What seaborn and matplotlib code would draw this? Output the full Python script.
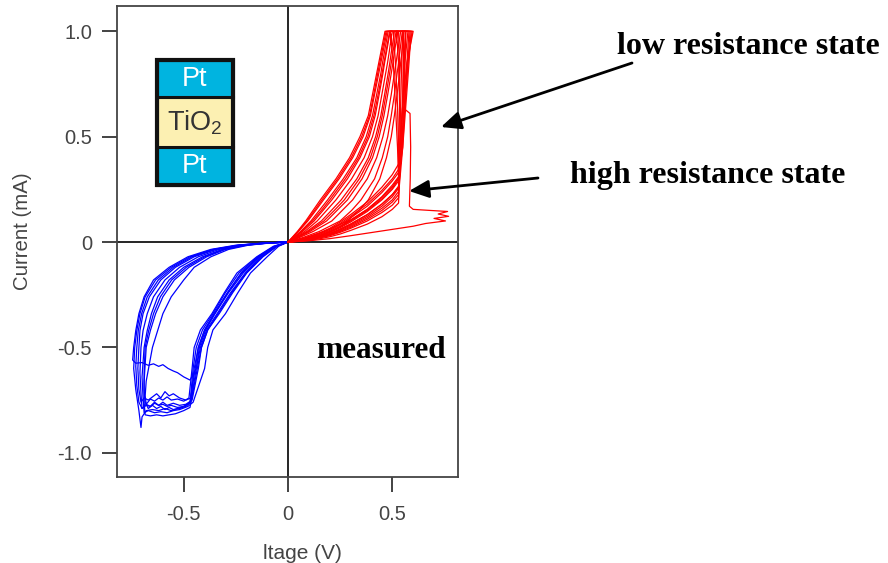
import matplotlib
matplotlib.use("Agg")
import matplotlib.pyplot as plt
from matplotlib.patches import Rectangle, FancyArrowPatch
import pandas as pd
import seaborn as sns

# ---------------- data: I-V sweeps of a Pt/TiO2/Pt cell ----------------
# Positive-bias sweeps (red): high-resistance rise, switching jump, low-resistance return
RED_HRS_V = [0.0, 0.05, 0.10, 0.15, 0.20, 0.25, 0.30, 0.38, 0.45, 0.50, 0.53]
red_hrs_i = [
    [0, 0.006, 0.015, 0.028, 0.045, 0.068, 0.095, 0.145, 0.200, 0.250, 0.290],
    [0, 0.008, 0.020, 0.036, 0.055, 0.082, 0.115, 0.170, 0.235, 0.290, 0.330],
    [0, 0.005, 0.012, 0.022, 0.035, 0.053, 0.075, 0.115, 0.160, 0.200, 0.240],
    [0, 0.004, 0.010, 0.019, 0.030, 0.046, 0.065, 0.100, 0.140, 0.175, 0.210],
    [0, 0.010, 0.025, 0.043, 0.065, 0.095, 0.130, 0.190, 0.260, 0.320, 0.370],
    [0, 0.003, 0.008, 0.015, 0.025, 0.038, 0.055, 0.085, 0.120, 0.155, 0.185],
    [0, 0.007, 0.018, 0.032, 0.050, 0.075, 0.105, 0.155, 0.215, 0.270, 0.310],
    [0, 0.005, 0.014, 0.025, 0.040, 0.060, 0.085, 0.130, 0.180, 0.225, 0.265],
    [0, 0.009, 0.022, 0.040, 0.060, 0.088, 0.122, 0.180, 0.245, 0.300, 0.345],
    [0, 0.006, 0.016, 0.030, 0.048, 0.072, 0.100, 0.150, 0.205, 0.255, 0.300],
    [0, 0.004, 0.011, 0.020, 0.033, 0.050, 0.070, 0.108, 0.150, 0.190, 0.225],
    [0, 0.005, 0.013, 0.024, 0.038, 0.057, 0.080, 0.122, 0.170, 0.215, 0.255],
    [0, 0.007, 0.017, 0.031, 0.050, 0.074, 0.103, 0.155, 0.212, 0.262, 0.305],
]
RED_RISE_I = [0.45, 0.65, 0.85, 1.0]
red_rise_v = [
    [0.540, 0.550, 0.560, 0.575],
    [0.535, 0.540, 0.545, 0.550],
    [0.545, 0.560, 0.575, 0.595],
    [0.530, 0.525, 0.515, 0.505],
    [0.535, 0.550, 0.570, 0.600],
    [0.540, 0.550, 0.555, 0.565],
    [0.525, 0.515, 0.505, 0.490],
    [0.545, 0.560, 0.575, 0.585],
    [0.530, 0.535, 0.535, 0.530],
    [0.540, 0.535, 0.530, 0.520],
    [0.550, 0.565, 0.580, 0.590],
    [0.545, 0.555, 0.560, 0.565],
    [0.550, 0.560, 0.570, 0.580],
]
RED_LRS_I = [1.0, 0.95, 0.9, 0.85, 0.8, 0.7, 0.6, 0.5, 0.4, 0.3, 0.2, 0.15, 0.1, 0.05, 0.02, 0.0]
red_lrs_v = [
    [0.465, 0.455, 0.445, 0.435, 0.425, 0.405, 0.385, 0.345, 0.295, 0.230, 0.155, 0.120, 0.085, 0.045, 0.018, 0],
    [0.470, 0.460, 0.450, 0.440, 0.430, 0.411, 0.391, 0.353, 0.303, 0.238, 0.163, 0.127, 0.090, 0.048, 0.020, 0],
    [0.475, 0.465, 0.455, 0.445, 0.435, 0.415, 0.395, 0.360, 0.310, 0.245, 0.170, 0.133, 0.095, 0.050, 0.021, 0],
    [0.480, 0.471, 0.462, 0.453, 0.445, 0.425, 0.405, 0.375, 0.330, 0.265, 0.190, 0.150, 0.110, 0.060, 0.025, 0],
    [0.487, 0.478, 0.469, 0.460, 0.451, 0.432, 0.412, 0.383, 0.338, 0.275, 0.200, 0.160, 0.117, 0.065, 0.027, 0],
    [0.490, 0.481, 0.472, 0.463, 0.455, 0.437, 0.418, 0.390, 0.345, 0.285, 0.210, 0.168, 0.125, 0.070, 0.030, 0],
    [0.500, 0.492, 0.485, 0.477, 0.468, 0.450, 0.432, 0.405, 0.365, 0.305, 0.230, 0.185, 0.140, 0.080, 0.034, 0],
    [0.510, 0.503, 0.495, 0.488, 0.480, 0.463, 0.445, 0.420, 0.385, 0.330, 0.255, 0.208, 0.160, 0.090, 0.038, 0],
    [0.518, 0.511, 0.503, 0.495, 0.487, 0.470, 0.452, 0.428, 0.395, 0.342, 0.270, 0.222, 0.172, 0.097, 0.041, 0],
    [0.525, 0.518, 0.510, 0.503, 0.495, 0.478, 0.460, 0.437, 0.405, 0.355, 0.285, 0.235, 0.185, 0.105, 0.045, 0],
    [0.540, 0.533, 0.525, 0.518, 0.510, 0.495, 0.478, 0.455, 0.425, 0.380, 0.310, 0.260, 0.210, 0.120, 0.052, 0],
    [0.548, 0.542, 0.536, 0.530, 0.523, 0.510, 0.495, 0.478, 0.452, 0.415, 0.350, 0.305, 0.250, 0.150, 0.068, 0],
    [0.556, 0.551, 0.546, 0.540, 0.535, 0.523, 0.510, 0.495, 0.472, 0.440, 0.385, 0.340, 0.285, 0.175, 0.080, 0],
]
# sweep that resets back to the high-resistance state
reset_v = [0, 0.10, 0.20, 0.30, 0.38, 0.45, 0.50, 0.53, 0.540, 0.550, 0.555,
           0.560, 0.560, 0.585, 0.588, 0.586, 0.582, 0.600, 0.680, 0.765, 0.720,
           0.770, 0.700, 0.755, 0.660, 0.600, 0.500, 0.400, 0.300, 0.200, 0.100, 0]
reset_i = [0, 0.012, 0.040, 0.085, 0.130, 0.180, 0.225, 0.260, 0.45, 0.70, 1.0,
           0.80, 0.63, 0.61, 0.45, 0.30, 0.17, 0.155, 0.150, 0.145, 0.133,
           0.122, 0.112, 0.100, 0.088, 0.075, 0.060, 0.045, 0.030, 0.016, 0.006, 0]

# Negative-bias sweeps (blue)
BLUE_LEFT_I = [0, -0.005, -0.015, -0.035, -0.07, -0.12, -0.18, -0.26, -0.34, -0.42, -0.5]
blue_left_v = [
    [0, -0.120, -0.250, -0.370, -0.480, -0.570, -0.645, -0.690, -0.715, -0.730, -0.740],
    [0, -0.115, -0.240, -0.360, -0.470, -0.560, -0.635, -0.685, -0.710, -0.725, -0.735],
    [0, -0.112, -0.235, -0.352, -0.460, -0.550, -0.622, -0.675, -0.702, -0.718, -0.725],
    [0, -0.110, -0.230, -0.345, -0.450, -0.540, -0.610, -0.665, -0.695, -0.710, -0.715],
    [0, -0.105, -0.220, -0.330, -0.430, -0.520, -0.590, -0.645, -0.675, -0.695, -0.705],
    [0, -0.100, -0.210, -0.315, -0.410, -0.500, -0.570, -0.625, -0.655, -0.675, -0.690],
    [0, -0.098, -0.205, -0.308, -0.400, -0.488, -0.558, -0.612, -0.645, -0.668, -0.685],
    [0, -0.095, -0.200, -0.300, -0.390, -0.475, -0.545, -0.600, -0.635, -0.660, -0.680],
    [0, -0.090, -0.190, -0.285, -0.370, -0.450, -0.500, -0.560, -0.600, -0.625, -0.650],
]
blue_bottom_v = [
    [-0.745, -0.73, -0.70, -0.67, -0.645, -0.62, -0.60, -0.575, -0.55, -0.53, -0.50, -0.47],
    [-0.74, -0.73, -0.715, -0.705, -0.70, -0.68, -0.65, -0.62, -0.59, -0.56, -0.53, -0.50, -0.47],
    [-0.73, -0.725, -0.715, -0.70, -0.68, -0.66, -0.64, -0.62, -0.60, -0.58, -0.56, -0.53, -0.50, -0.47],
    [-0.72, -0.715, -0.705, -0.69, -0.67, -0.65, -0.63, -0.61, -0.59, -0.57, -0.55, -0.52, -0.49, -0.465],
    [-0.71, -0.705, -0.70, -0.68, -0.66, -0.64, -0.62, -0.60, -0.58, -0.55, -0.52, -0.49, -0.46],
    [-0.70, -0.695, -0.69, -0.67, -0.64, -0.61, -0.58, -0.55, -0.52, -0.48, -0.455],
    [-0.69, -0.69, -0.685, -0.67, -0.65, -0.63, -0.61, -0.59, -0.57, -0.55, -0.52, -0.49, -0.465],
    [-0.69, -0.69, -0.685, -0.66, -0.63, -0.60, -0.57, -0.54, -0.50, -0.47],
    [-0.68, -0.685, -0.68, -0.66, -0.64, -0.62, -0.60, -0.58, -0.56, -0.53, -0.50, -0.475],
]
blue_bottom_i = [
    [-0.56, -0.575, -0.572, -0.585, -0.578, -0.59, -0.582, -0.60, -0.612, -0.62, -0.64, -0.655],
    [-0.60, -0.70, -0.80, -0.88, -0.83, -0.80, -0.795, -0.80, -0.79, -0.80, -0.79, -0.78, -0.765],
    [-0.59, -0.68, -0.76, -0.79, -0.775, -0.78, -0.765, -0.775, -0.77, -0.78, -0.775, -0.785, -0.78, -0.76],
    [-0.60, -0.70, -0.76, -0.74, -0.75, -0.735, -0.72, -0.74, -0.71, -0.73, -0.72, -0.74, -0.75, -0.74],
    [-0.62, -0.72, -0.79, -0.77, -0.78, -0.76, -0.775, -0.76, -0.775, -0.765, -0.775, -0.77, -0.75],
    [-0.64, -0.74, -0.81, -0.80, -0.81, -0.805, -0.81, -0.80, -0.795, -0.78, -0.76],
    [-0.62, -0.70, -0.76, -0.79, -0.775, -0.79, -0.78, -0.795, -0.785, -0.795, -0.79, -0.78, -0.76],
    [-0.66, -0.76, -0.82, -0.825, -0.82, -0.825, -0.82, -0.815, -0.80, -0.785],
    [-0.66, -0.73, -0.77, -0.745, -0.755, -0.74, -0.75, -0.735, -0.75, -0.745, -0.755, -0.74],
]
BLUE_RIGHT_I = [-0.6, -0.5, -0.417, -0.34, -0.24, -0.147, -0.07, -0.02, 0]
blue_right_v = [
    [-0.440, -0.425, -0.395, -0.350, -0.285, -0.215, -0.135, -0.060, 0],
    [-0.455, -0.440, -0.410, -0.360, -0.300, -0.235, -0.145, -0.065, 0],
    [-0.445, -0.430, -0.400, -0.352, -0.290, -0.222, -0.140, -0.060, 0],
    [-0.450, -0.430, -0.400, -0.355, -0.290, -0.225, -0.140, -0.060, 0],
    [-0.430, -0.415, -0.385, -0.335, -0.270, -0.200, -0.125, -0.055, 0],
    [-0.400, -0.385, -0.360, -0.300, -0.240, -0.180, -0.100, -0.045, 0],
    [-0.435, -0.415, -0.385, -0.330, -0.265, -0.198, -0.120, -0.052, 0],
    [-0.440, -0.420, -0.390, -0.340, -0.275, -0.205, -0.130, -0.055, 0],
    [-0.460, -0.450, -0.420, -0.365, -0.305, -0.245, -0.150, -0.070, 0],
]

X_TICKS = [-0.5, 0, 0.5]
X_TICK_LABELS = ["-0.5", "0", "0.5"]
Y_TICKS = [-1.0, -0.5, 0, 0.5, 1.0]
Y_TICK_LABELS = ["-1.0", "-0.5", "0", "0.5", "1.0"]

# ---------------- assemble sweep tables ----------------
rows = []
for k in range(len(red_hrs_i)):
    v = list(RED_HRS_V) + red_rise_v[k] + red_lrs_v[k]
    i = red_hrs_i[k] + list(RED_RISE_I) + list(RED_LRS_I)
    rows += [("r%d" % k, n, a, b) for n, (a, b) in enumerate(zip(v, i))]
rows += [("reset", n, a, b) for n, (a, b) in enumerate(zip(reset_v, reset_i))]
red_df = pd.DataFrame(rows, columns=["sweep", "step", "V", "I"])

rows = []
for k in range(len(blue_left_v)):
    v = blue_left_v[k] + blue_bottom_v[k] + blue_right_v[k]
    i = list(BLUE_LEFT_I) + blue_bottom_i[k] + list(BLUE_RIGHT_I)
    rows += [("b%d" % k, n, a, b) for n, (a, b) in enumerate(zip(v, i))]
blue_df = pd.DataFrame(rows, columns=["sweep", "step", "V", "I"])

# ---------------- figure ----------------
sns.set_theme(style="white")
plt.rcParams["font.family"] = ["Liberation Sans", "DejaVu Sans"]
plt.rcParams["mathtext.fontset"] = "custom"
plt.rcParams["mathtext.rm"] = "Liberation Sans"

W, H = 888, 563
fig = plt.figure(figsize=(W / 100, H / 100), dpi=100)
ax_l, ax_r, ax_t, ax_b = 117, 458, 6, 477
ax = fig.add_axes([ax_l / W, 1 - ax_b / H, (ax_r - ax_l) / W, (ax_b - ax_t) / H])

sns.lineplot(data=blue_df, x="V", y="I", units="sweep", estimator=None, sort=False,
             color="#0000ff", lw=0.9, ax=ax)
sns.lineplot(data=red_df, x="V", y="I", units="sweep", estimator=None, sort=False,
             color="#ff0000", lw=0.9, ax=ax)

ax.axhline(0, color="black", lw=1.2, zorder=1)
ax.axvline(0, color="black", lw=1.2, zorder=1)

ax.set_xlim(-0.82, 0.815)
ax.set_ylim(-1.115, 1.12)
ax.set_xticks(X_TICKS)
ax.set_xticklabels(X_TICK_LABELS)
ax.set_yticks(Y_TICKS)
ax.set_yticklabels(Y_TICK_LABELS)
ax.tick_params(direction="out", length=11, width=1.2, color="#222222",
               labelsize=14.5, labelcolor="#444444", pad=7,
               bottom=True, left=True, top=False, right=False)
ax.tick_params(axis="x", pad=9)
for s in ax.spines.values():
    s.set_color("#444444")
    s.set_linewidth(1.3)
ax.set_xlabel("")
ax.set_ylabel("")

fig.text(22 / W, 1 - 231 / H, "Current (mA)", rotation=90, ha="center", va="center",
         fontsize=14.7, color="#444444")
fig.text(302 / W, 1 - 544 / H, "ltage (V)", ha="center", va="top",
         fontsize=15, color="#444444")


# layered device sketch
def ax_frac(px, py):
    return (px - ax_l) / (ax_r - ax_l), (ax_b - py) / (ax_b - ax_t)


layers = [(147, 185, "#00b4e0"), (97, 147, "#fcf0b2"), (60, 97, "#00b4e0")]
x0, _ = ax_frac(157, 0)
x1, _ = ax_frac(233, 0)
for top_px, bot_px, col in layers:
    _, yb = ax_frac(0, bot_px)
    _, yt = ax_frac(0, top_px)
    ax.add_patch(Rectangle((x0, yb), x1 - x0, yt - yb, transform=ax.transAxes,
                           facecolor=col, edgecolor="#111111", lw=2.2, zorder=5))
_, yb = ax_frac(0, 185)
_, yt = ax_frac(0, 60)
ax.add_patch(Rectangle((x0, yb), x1 - x0, yt - yb, transform=ax.transAxes,
                       facecolor="none", edgecolor="#111111", lw=3, zorder=6))
xc = (x0 + x1) / 2
for label, py, col in [("Pt", 79, "white"), ("TiO$_\\mathrm{2}$", 123, "#333333"), ("Pt", 166, "white")]:
    ax.text(xc, ax_frac(0, py)[1], label, transform=ax.transAxes, ha="center",
            va="center", fontsize=19.5, color=col, zorder=7)

# annotations
serif = ["Liberation Serif", "DejaVu Serif"]
ax.text(ax_frac(381, 0)[0], ax_frac(0, 351)[1], "measured", transform=ax.transAxes,
        ha="center", va="center", fontsize=22.5, fontweight="bold", family=serif,
        color="black")
fig.text(748 / W, 1 - 47 / H, "low resistance state", ha="center", va="center",
         fontsize=23, fontweight="bold", family=serif, color="black")
fig.text(708 / W, 1 - 175 / H, "high resistance state", ha="center", va="center",
         fontsize=23, fontweight="bold", family=serif, color="black")

arrow_style = "-|>,head_length=0.6,head_width=0.27"
for tail, head in [((632, 63), (441, 127)), ((538, 178), (409, 191))]:
    fig.add_artist(FancyArrowPatch(
        (tail[0] / W, 1 - tail[1] / H), (head[0] / W, 1 - head[1] / H),
        transform=fig.transFigure, arrowstyle=arrow_style, mutation_scale=20,
        lw=2, color="black", shrinkA=0, shrinkB=0))

fig.savefig("out.png", dpi=100)
